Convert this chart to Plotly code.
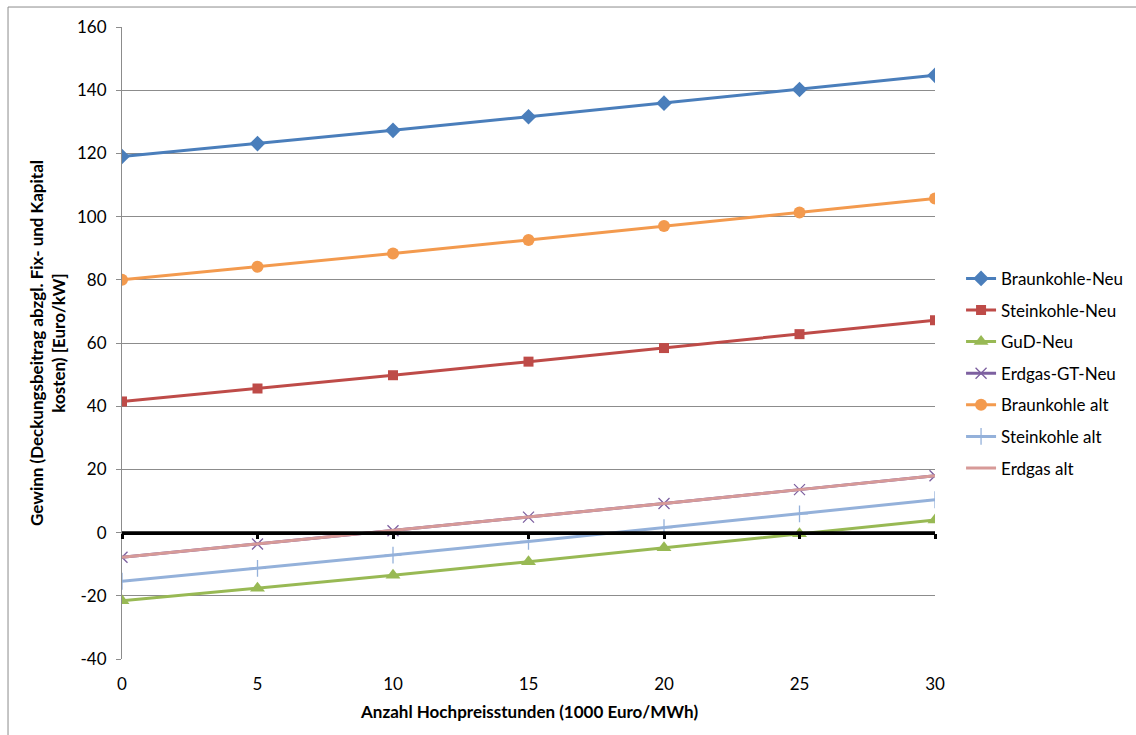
import plotly.graph_objects as go

# Hochpreisstunden (Kategorien der x-Achse)
stunden = [0, 5, 10, 15, 20, 25, 30]

braunkohle_neu = [119.0, 123.1, 127.3, 131.6, 135.9, 140.2, 144.7]
steinkohle_neu = [41.5, 45.6, 49.8, 54.1, 58.4, 62.8, 67.2]
gud_neu = [-21.6, -17.6, -13.5, -9.2, -4.8, -0.4, 4.0]
erdgas_gt_neu = [-7.8, -3.6, 0.6, 4.9, 9.2, 13.6, 18.0]
braunkohle_alt = [80.0, 84.1, 88.3, 92.6, 97.0, 101.3, 105.7]
steinkohle_alt = [-15.4, -11.3, -7.1, -2.8, 1.6, 5.9, 10.4]
erdgas_alt = [-7.8, -3.6, 0.6, 4.9, 9.2, 13.6, 18.0]

y_ticks = [-40, -20, 0, 20, 40, 60, 80, 100, 120, 140, 160]
y_tick_text = ["-40", "-20", "0", "20", "40", "60", "80", "100", "120", "140", "160"]

FONT = "Lato, Carlito, Calibri, 'Open Sans', sans-serif"

serien = [
    ("Braunkohle-Neu", braunkohle_neu, "#4A7EBB", "diamond", 12, 0),
    ("Steinkohle-Neu", steinkohle_neu, "#BE4B48", "square", 10, 0),
    ("GuD-Neu", gud_neu, "#98B954", "triangle-up", 13, 0),
    ("Erdgas-GT-Neu", erdgas_gt_neu, "#7D60A0", "x-thin-open", 11, 1.3),
    ("Braunkohle alt", braunkohle_alt, "#F39A4E", "circle", 12, 0),
    ("Steinkohle alt", steinkohle_alt, "#94B1DA", "cross-thin-open", 12, 1.3),
    ("Erdgas alt", erdgas_alt, "#D79A98", "circle", 1, 0),
]

fig = go.Figure()

for i, (name, werte, farbe, symbol, groesse, mlw) in enumerate(serien):
    marker = dict(symbol=symbol, size=groesse, color=farbe)
    if mlw:
        marker["line"] = dict(color=farbe, width=mlw)
    mode = "lines" if name == "Erdgas alt" else "lines+markers"
    fig.add_trace(go.Scatter(
        x=stunden, y=werte, name=name, mode=mode,
        line=dict(color=farbe, width=3),
        marker=marker,
        legendgroup=f"g{i}",
    ))

# Nulllinie mit Teilstrichen (Kategorienachse schneidet bei 0)
fig.add_trace(go.Scatter(
    x=[stunden[0], stunden[-1]], y=[0, 0], mode="lines",
    line=dict(color="black", width=2.5), showlegend=False, hoverinfo="skip",
    xaxis="x2",
))

fig.update_layout(
    width=1136, height=735,
    margin=dict(l=122, r=201, t=27, b=76, autoexpand=False),
    paper_bgcolor="white", plot_bgcolor="white",
    font=dict(family=FONT, size=17, color="black"),
    showlegend=True,
    legend=dict(
        xref="container", x=0.846, y=0.63, xanchor="left", yanchor="top",
        font=dict(family=FONT, size=17, color="black"),
        tracegroupgap=6.5, itemwidth=30,
        bgcolor="rgba(0,0,0,0)",
    ),
    xaxis=dict(
        range=[stunden[0], stunden[-1]],
        tickvals=stunden, ticktext=[str(s) for s in stunden],
        showgrid=False, zeroline=False, showline=False,
        ticks="", ticklabelstandoff=13,
        tickfont=dict(family=FONT, size=17),
    ),
    xaxis2=dict(
        range=[stunden[0], stunden[-1]], overlaying="x",
        anchor="free", position=0.2,
        tickvals=stunden, showticklabels=False,
        showgrid=False, zeroline=False,
        showline=True, linecolor="black", linewidth=2.5,
        ticks="outside", ticklen=5, tickwidth=2.5, tickcolor="black",
    ),
    yaxis=dict(
        range=[-40, 160], tickvals=y_ticks, ticktext=y_tick_text,
        showgrid=True, gridcolor="#8C8C8C", gridwidth=1,
        zeroline=False,
        showline=True, linecolor="#8C8C8C", linewidth=1,
        ticks="outside", ticklen=5, tickcolor="#8C8C8C",
        ticklabelstandoff=6,
        tickfont=dict(family=FONT, size=17),
    ),
    annotations=[
        dict(
            text="<b>Anzahl Hochpreisstunden (1000 Euro/MWh)</b>",
            xref="paper", yref="paper", x=0.5, y=-0.083,
            xanchor="center", yanchor="middle", showarrow=False,
            font=dict(family=FONT, size=17),
        ),
        dict(
            text="<b>Gewinn (Deckungsbeitrag abzgl. Fix- und Kapital<br>kosten) [Euro/kW]</b>",
            xref="paper", yref="paper", x=-0.0923, y=0.5,
            xanchor="center", yanchor="middle", showarrow=False,
            textangle=-90, font=dict(family=FONT, size=17),
        ),
    ],
    shapes=[
        dict(
            type="rect", xref="paper", yref="paper",
            x0=-0.1402, x1=1.26, y0=-0.135, y1=1.0316,
            line=dict(color="#8C8C8C", width=1), layer="below",
        ),
    ],
)

fig.write_html("out.html")
